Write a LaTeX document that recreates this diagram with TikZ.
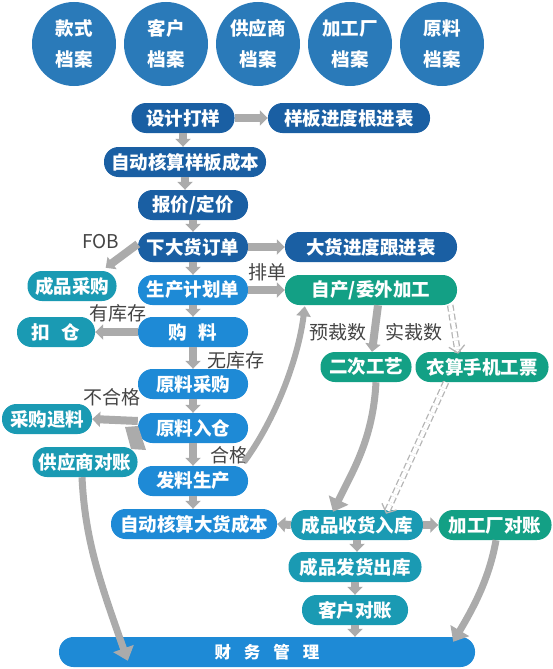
\documentclass[tikz,border=0pt]{standalone}
\usepackage{fontspec}
\setmainfont{Noto Sans CJK SC}
\usetikzlibrary{arrows.meta}
\definecolor{cdark}{HTML}{1A5FA3}
\definecolor{clight}{HTML}{1E8AD6}
\definecolor{cteal}{HTML}{1A9AB3}
\definecolor{cgreen}{HTML}{13A085}
\definecolor{ccirc}{HTML}{2A7AB9}
\definecolor{carr}{HTML}{ABABAB}
\definecolor{cdsh}{HTML}{B5B5B5}
\definecolor{clab}{HTML}{444444}
\tikzset{
  box/.style={rectangle, rounded corners=14.5pt, minimum height=30pt, inner sep=0pt, text=white, font=\fontsize{18.5}{20}\selectfont\bfseries},
  bd/.style={box, fill=cdark},
  bl/.style={box, fill=clight},
  bt/.style={box, fill=cteal},
  bg/.style={box, fill=cgreen},
  circ/.style={circle, fill=ccirc, minimum size=84pt, inner sep=0pt, text=white, align=center, font=\fontsize{18.5}{31}\selectfont\bfseries},
  blk/.style={draw=carr, line width=8pt, -{Triangle[length=8pt,width=15pt]}},
  curv/.style={draw=carr, line width=7pt, -{Triangle[length=13pt,width=21pt]}},
  curvs/.style={draw=carr, line width=6pt, -{Triangle[length=10pt,width=14pt]}},
  lab/.style={text=clab, inner sep=0pt, font=\fontsize{19}{20}\selectfont},
  dsh/.style={draw=cdsh, dash pattern=on 6pt off 3pt, double=white, double distance=4pt, line width=1.3pt, -{Straight Barb[length=7pt,width=16pt]}}
}
\begin{document}
\begin{tikzpicture}[x=1pt,y=-1pt]
\useasboundingbox (0,0) rectangle (552,669);
% top circles
\node[circ] (c1) at (74,44) {款式\\档案};
\node[circ] (c2) at (166,44) {客户\\档案};
\node[circ] (c3) at (258,44) {供应商\\档案};
\node[circ] (c4) at (350,44) {加工厂\\档案};
\node[circ] (c5) at (442,44) {原料\\档案};
% nodes
\node[bd, minimum width=103pt] (sj) at (183,118) {设计打样};
\node[bd, minimum width=162pt] (yb) at (349,118) {样板进度根进表};
\node[bd, minimum width=162pt] (zy) at (185,162) {自动核算样板成本};
\node[bd, minimum width=110pt] (bj) at (193,205) {报价/定价};
\node[bd, minimum width=110pt] (xd) at (193,247) {下大货订单};
\node[bd, minimum width=172pt] (dh) at (371,247) {大货进度跟进表};
\node[bl, minimum width=110pt] (sc) at (193,290) {生产计划单};
\node[bt, minimum width=89pt] (cg) at (72,286) {成品采购};
\node[bg, minimum width=172pt] (zc) at (371,290) {自产/委外加工};
\node[bt, minimum width=78pt] (kc) at (56,332) {扣\hspace{12pt}仓};
\node[bl, minimum width=110pt] (gl) at (193,332) {购\hspace{12pt}料};
\node[bl, minimum width=110pt] (ry) at (193,384) {原料采购};
\node[bg, minimum width=91pt] (ec) at (366,367) {二次工艺};
\node[bg, minimum width=133pt] (ys) at (482,367) {衣算手机工票};
\node[bl, minimum width=110pt] (rr) at (193,428) {原料入仓};
\node[bt, minimum width=90pt] (th) at (47,419) {采购退料};
\node[bt, minimum width=105pt] (gy) at (85,462) {供应商对账};
\node[bl, minimum width=110pt] (fl) at (193,481) {发料生产};
\node[bl, minimum width=166pt] (zd) at (194,524) {自动核算大货成本};
\node[bt, minimum width=132pt] (sh) at (357,525) {成品收货入库};
\node[bg, minimum width=113pt] (jg) at (495,525) {加工厂对账};
\node[bt, minimum width=133pt] (cf) at (355,567) {成品发货出库};
\node[bt, minimum width=106pt] (kh) at (355,610) {客户对账};
\node[bl, minimum width=416pt, font=\fontsize{16.5}{20}\selectfont\bfseries] (cw) at (267,652) {财\hspace{13pt}务\hspace{13pt}管\hspace{13pt}理};
% labels
\node[lab] (lfob) at (101,242) {FOB};
\node[lab] (lpd) at (267,272) {排单};
\node[lab] (lykc) at (118,313) {有库存};
\node[lab] (lwkc) at (236,360) {无库存};
\node[lab] (lbhg) at (112,397) {不合格};
\node[lab] (lhg) at (229,455) {合格};
\node[lab] (lyc) at (338,332) {预裁数};
\node[lab] (lsc) at (414,332) {实裁数};
% down arrows
\draw[blk] (sj.south) -- (zy.north -| sj.south);
\draw[blk] (zy.south) -- (bj.north -| zy.south);
\draw[blk] (bj.south) -- (xd.north);
\draw[blk] (xd.south) -- (sc.north);
\draw[blk] (sc.south) -- (gl.north);
\draw[blk] (gl.south) -- (ry.north);
\draw[blk] (ry.south) -- (rr.north);
\draw[blk] (rr.south) -- (fl.north);
\draw[blk] (fl.south) -- (zd.north -| fl.south);
\draw[blk] (sh.south) -- (cf.north -| sh.south);
\draw[blk] (cf.south) -- (kh.north);
\draw[blk] (kh.south) -- (cw.north -| kh.south);
% horizontal arrows
\draw[blk] (sj.east) -- (yb.west);
\draw[blk] (xd.east) -- (dh.west);
\draw[blk] (sc.east) -- (zc.west);
\draw[blk] (sh.west) -- (zd.east);
\draw[blk] (sh.east) -- (jg.west);
\draw[blk] (gl.west) -- (kc.east);
\draw[blk] ([yshift=7pt]rr.west) -- (th.east);
\fill[carr] (125,427) -- (138,426) -- (146,450) -- (131,449) -- cycle;
\draw[blk] ([yshift=3pt]xd.west) -- ([xshift=-11pt,yshift=3pt]cg.north east);
% curved arrows
\draw[curvs] ([xshift=-4pt,yshift=4pt]fl.north east) .. controls (275,420) and (298,360) .. ([xshift=20pt,yshift=-1pt]zc.south west);
\draw[blk] ([xshift=7pt]zc.south) -- ([xshift=6pt]ec.north);
\draw[curv] ([xshift=10pt]ec.south) .. controls (373,440) and (352,472) .. ([xshift=-24pt,yshift=-2pt]sh.north);
\draw[curv] ([xshift=-3pt]gy.south) .. controls (85,540) and (100,582) .. ([xshift=69pt,yshift=-24pt]cw.north west);
\draw[curv] ([xshift=1pt]jg.south) .. controls (489,580) and (472,610) .. ([xshift=-22pt,yshift=-5pt]cw.north east);
% dashed double arrows
\draw[dsh] ([xshift=-7pt]zc.south east) -- ([xshift=-24pt,yshift=-2pt]ys.north);
\draw[dsh] ([xshift=-36pt]ys.south) -- ([xshift=29pt,yshift=-4pt]sh.north);
\end{tikzpicture}
\end{document}
